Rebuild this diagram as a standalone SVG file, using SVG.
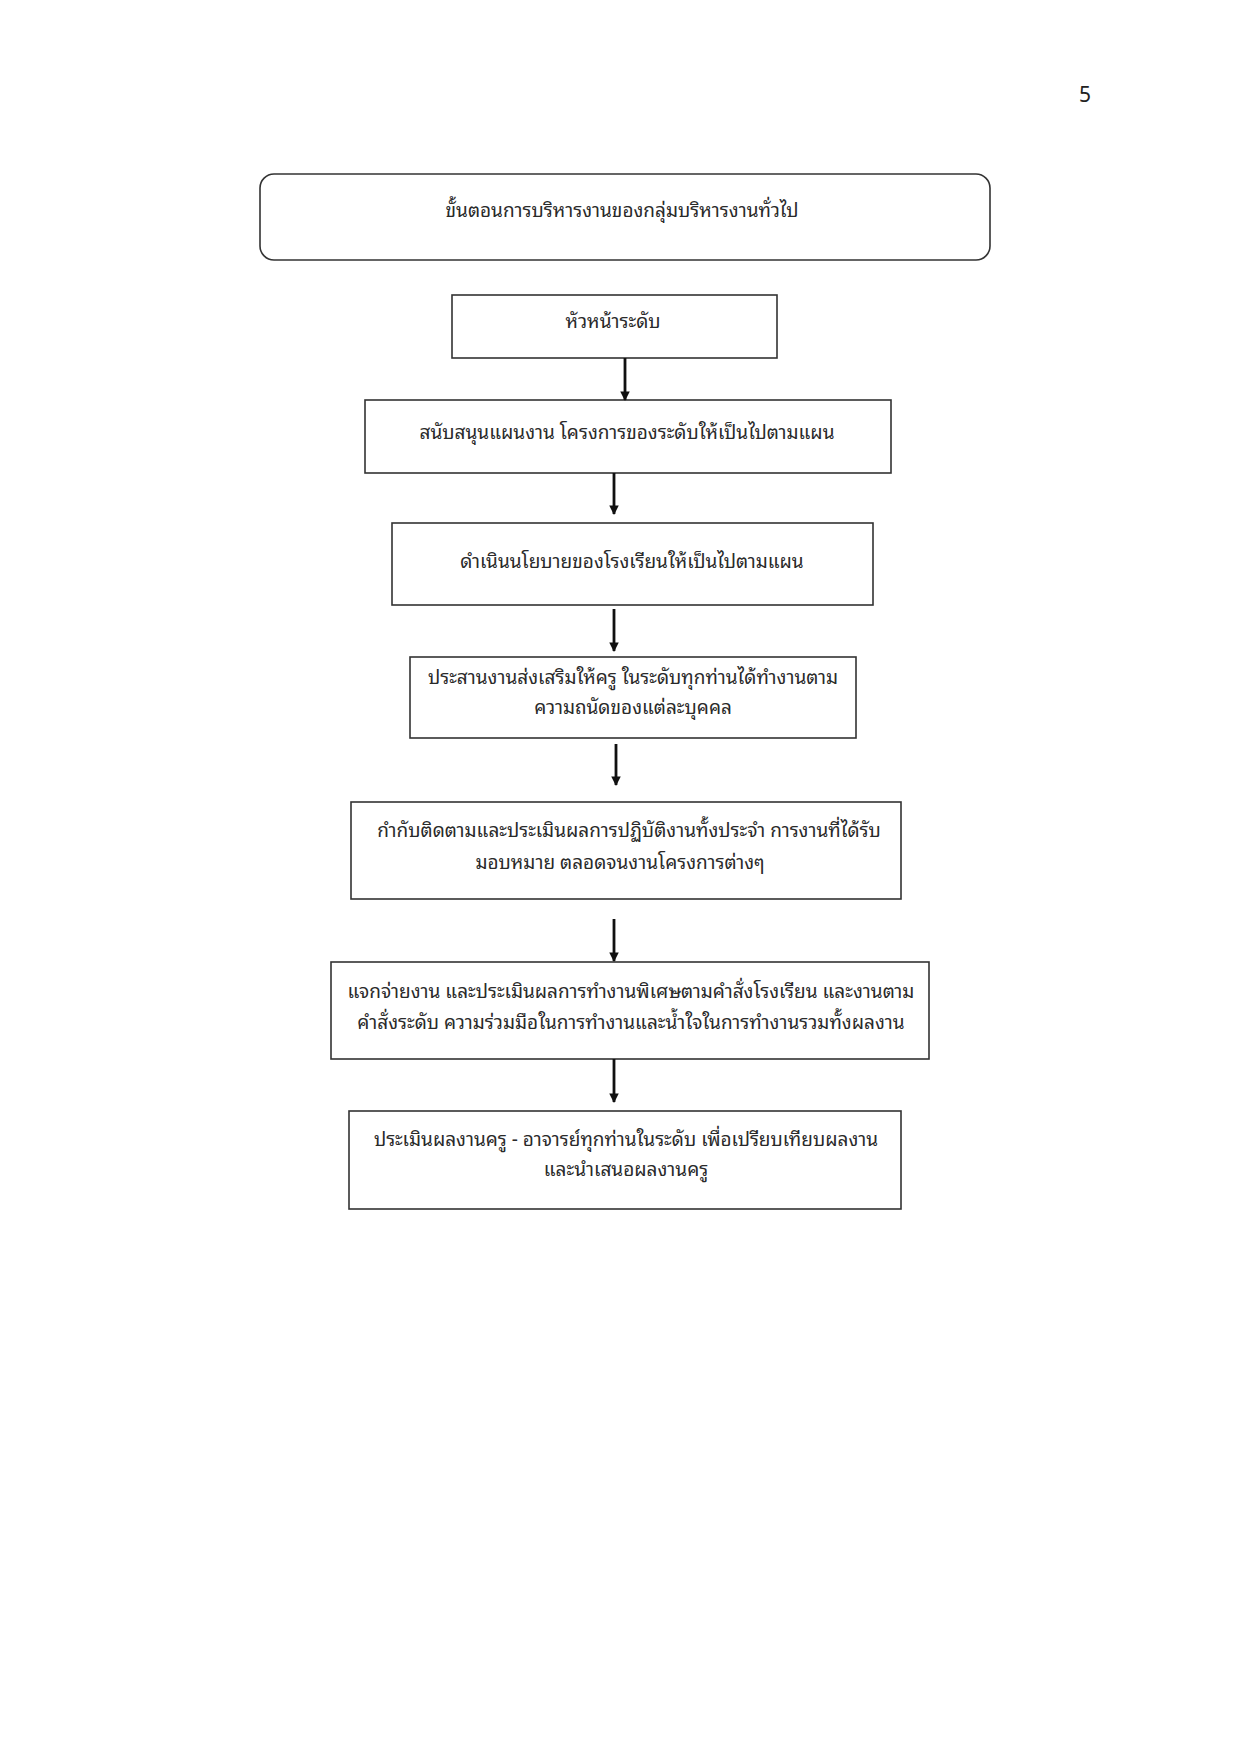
<svg xmlns="http://www.w3.org/2000/svg" width="1241" height="1755" viewBox="0 0 1241 1755">
<defs>
<style>
.box{fill:#fff;stroke:#333;stroke-width:1.6}
.t{font-family:"Noto Sans Thai Looped","Tahoma","Loma","Garuda","Noto Sans Thai","DejaVu Sans","Noto Sans",sans-serif;font-size:19px;fill:#2a2a2a;text-anchor:middle}
.pg{font-family:"Noto Sans","DejaVu Sans",sans-serif;font-size:21px;fill:#222;text-anchor:middle}
.arr{stroke:#111;stroke-width:2.8;fill:none;marker-end:url(#ah)}
</style>
<marker id="ah" viewBox="0 0 10 10" refX="9" refY="5" markerWidth="3.4" markerHeight="3.4" orient="auto" markerUnits="strokeWidth">
<path d="M0,0 L10,5 L0,10 z" fill="#111"/>
</marker>
</defs>
<rect width="1241" height="1755" fill="#fff"/>
<text class="pg" x="1085" y="102">5</text>
<g id="title">
<rect class="box" x="260" y="174" width="730" height="86" rx="14" ry="14"/>
<text class="t" x="622" y="217">ขั้นตอนการบริหารงานของกลุ่มบริหารงานทั่วไป</text>
</g>
<g id="n1">
<rect class="box" x="452" y="295" width="325" height="63"/>
<text class="t" x="613" y="328">หัวหน้าระดับ</text>
</g>
<g id="n2">
<rect class="box" x="365" y="400" width="526" height="73"/>
<text class="t" x="627" y="439">สนับสนุนแผนงาน โครงการของระดับให้เป็นไปตามแผน</text>
</g>
<g id="n3">
<rect class="box" x="392" y="523" width="481" height="82"/>
<text class="t" x="632" y="568">ดำเนินนโยบายของโรงเรียนให้เป็นไปตามแผน</text>
</g>
<g id="n4">
<rect class="box" x="410" y="657" width="446" height="81"/>
<text class="t" x="633" y="684">ประสานงานส่งเสริมให้ครู ในระดับทุกท่านได้ทำงานตาม</text>
<text class="t" x="633" y="714">ความถนัดของแต่ละบุคคล</text>
</g>
<g id="n5">
<rect class="box" x="351" y="802" width="550" height="97"/>
<text class="t" x="629" y="837">กำกับติดตามและประเมินผลการปฏิบัติงานทั้งประจำ การงานที่ได้รับ</text>
<text class="t" x="620" y="869">มอบหมาย ตลอดจนงานโครงการต่างๆ</text>
</g>
<g id="n6">
<rect class="box" x="331" y="962" width="598" height="97"/>
<text class="t" x="631" y="998">แจกจ่ายงาน และประเมินผลการทำงานพิเศษตามคำสั่งโรงเรียน และงานตาม</text>
<text class="t" x="631" y="1029">คำสั่งระดับ ความร่วมมือในการทำงานและน้ำใจในการทำงานรวมทั้งผลงาน</text>
</g>
<g id="n7">
<rect class="box" x="349" y="1111" width="552" height="98"/>
<text class="t" x="626" y="1146">ประเมินผลงานครู - อาจารย์ทุกท่านในระดับ เพื่อเปรียบเทียบผลงาน</text>
<text class="t" x="626" y="1176">และนำเสนอผลงานครู</text>
</g>
<g id="connectors">
<line class="arr" x1="625" y1="358" x2="625" y2="400"/>
<line class="arr" x1="614" y1="473" x2="614" y2="514"/>
<line class="arr" x1="614" y1="609" x2="614" y2="651"/>
<line class="arr" x1="616" y1="744" x2="616" y2="785"/>
<line class="arr" x1="614" y1="919" x2="614" y2="961"/>
<line class="arr" x1="614" y1="1059" x2="614" y2="1102"/>
</g>
</svg>
